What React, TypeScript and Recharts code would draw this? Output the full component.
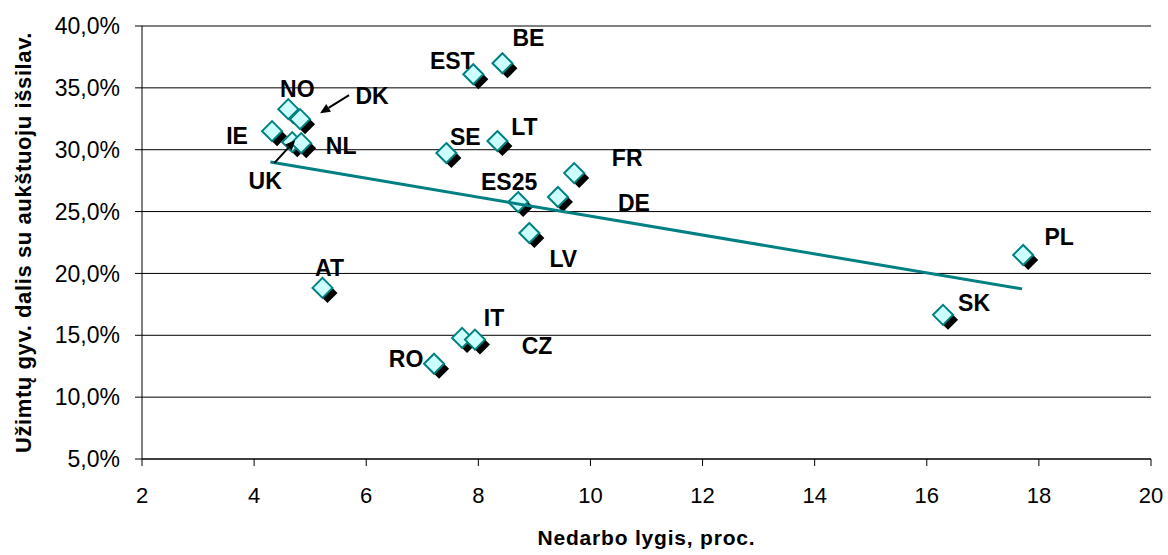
import { ScatterChart, Scatter, XAxis, YAxis, CartesianGrid, Label } from 'recharts'

// ─── Duomenys ────────────────────────────────────────────────────────────────
const countries = ['BE', 'EST', 'NO', 'DK', 'IE', 'UK', 'NL', 'SE', 'LT', 'FR', 'ES25', 'DE', 'LV', 'AT', 'IT', 'CZ', 'RO', 'PL', 'SK']
const unemployment = [8.43, 7.91, 4.61, 4.82, 4.32, 4.68, 4.84, 7.43, 8.34, 9.71, 8.71, 9.42, 8.91, 5.22, 7.71, 7.94, 7.21, 17.72, 16.29]
const tertiaryShare = [36.99, 36.1, 33.28, 32.47, 31.5, 30.61, 30.53, 29.73, 30.7, 28.11, 25.77, 26.18, 23.27, 18.83, 14.79, 14.65, 12.7, 21.49, 16.65]

const trendX = [4.29, 17.7]
const trendY = [29.0, 18.75]

const xTicks = [2, 4, 6, 8, 10, 12, 14, 16, 18, 20]
const yTicks = [5, 10, 15, 20, 25, 30, 35, 40]

const points = countries.map((name, i) => ({ name, x: unemployment[i], y: tertiaryShare[i] }))
const trend = trendX.map((x, i) => ({ x, y: trendY[i] }))

// label offsets (px) from the marker centre, optional arrow [tailX, tailY, tipX, tipY]
const labelLayout: Record<string, { dx: number; dy: number; arrow?: number[] }> = {
  BE: { dx: 26, dy: -25 },
  EST: { dx: -21, dy: -13 },
  NO: { dx: 9, dy: -20 },
  DK: { dx: 72, dy: -23, arrow: [49, -24, 20, -6] },
  IE: { dx: -35, dy: 5 },
  UK: { dx: -27, dy: 39, arrow: [-18, 21, 3, -2] },
  NL: { dx: 40, dy: 3 },
  SE: { dx: 19, dy: -16 },
  LT: { dx: 27, dy: -14 },
  FR: { dx: 53, dy: -15 },
  ES25: { dx: -9, dy: -20 },
  DE: { dx: 76, dy: 6 },
  LV: { dx: 34, dy: 26 },
  AT: { dx: 7, dy: -20 },
  IT: { dx: 32, dy: -20 },
  CZ: { dx: 62, dy: 6 },
  RO: { dx: -28, dy: -5 },
  PL: { dx: 36, dy: -18 },
  SK: { dx: 31, dy: -12 },
}

const FONT = '"Liberation Sans", Arial, sans-serif'
const TEAL = '#008080'

function Diamond({ cx, cy }: any) {
  const r = 10
  const pts = (ox: number, oy: number) =>
    `${cx + ox},${cy + oy - r} ${cx + ox + r},${cy + oy} ${cx + ox},${cy + oy + r} ${cx + ox - r},${cy + oy}`
  return (
    <g>
      <polygon points={pts(5, 5)} fill="#000" />
      <polygon points={pts(0, 0)} fill="#CCFFFF" stroke={TEAL} strokeWidth={2} />
    </g>
  )
}

function CountryLabel({ cx, cy, payload }: any) {
  const l = labelLayout[payload.name]
  if (!l) return <g />
  let arrow = null
  if (l.arrow) {
    const [tx, ty, hx, hy] = l.arrow
    const x1 = cx + tx, y1 = cy + ty, x2 = cx + hx, y2 = cy + hy
    const len = Math.hypot(x2 - x1, y2 - y1)
    const ux = (x2 - x1) / len, uy = (y2 - y1) / len
    const bx = x2 - ux * 10, by = y2 - uy * 10
    arrow = (
      <g>
        <line x1={x1} y1={y1} x2={bx} y2={by} stroke="#000" strokeWidth={2} />
        <polygon
          points={`${x2},${y2} ${bx - uy * 4.5},${by + ux * 4.5} ${bx + uy * 4.5},${by - ux * 4.5}`}
          fill="#000"
        />
      </g>
    )
  }
  return (
    <g>
      {arrow}
      <text x={cx + l.dx} y={cy + l.dy + 8} textAnchor="middle" fontFamily={FONT} fontWeight="bold" fontSize={23} fill="#000">
        {payload.name}
      </text>
    </g>
  )
}

const fmtPct = (v: number) => v.toFixed(1).replace('.', ',') + '%'

export default function App() {
  return (
    <div style={{ position: 'absolute', left: 0, top: 0, width: 1168, height: 555, background: '#fff' }}>
      <ScatterChart width={1168} height={555} margin={{ top: 26, right: 17, bottom: 0, left: 0 }}>
        <CartesianGrid vertical={false} stroke="#000" strokeWidth={1} />
        <XAxis
          type="number"
          dataKey="x"
          domain={[2, 20]}
          ticks={xTicks}
          height={96}
          tickSize={7}
          tickMargin={21}
          axisLine={{ stroke: '#000' }}
          tickLine={{ stroke: '#000' }}
          tick={{ fill: '#000', fontSize: 22, fontFamily: FONT }}
        >
          <Label
            content={({ viewBox }: any) => (
              <text
                x={viewBox.x + viewBox.width / 2}
                y={545}
                textAnchor="middle"
                fontFamily={FONT}
                fontWeight="bold"
                fontSize={21}
                letterSpacing={0.8}
                fill="#000"
              >
                Nedarbo lygis, proc.
              </text>
            )}
          />
        </XAxis>
        <YAxis
          type="number"
          dataKey="y"
          domain={[5, 40]}
          ticks={yTicks}
          width={142}
          tickSize={7}
          tickMargin={15}
          tickFormatter={fmtPct}
          axisLine={{ stroke: '#000' }}
          tickLine={{ stroke: '#000' }}
          tick={{ fill: '#000', fontSize: 23, fontFamily: FONT }}
        >
          <Label
            content={({ viewBox }: any) => {
              const cy = viewBox.y + viewBox.height / 2
              return (
                <text
                  x={31}
                  y={cy}
                  transform={`rotate(-90 31 ${cy})`}
                  textAnchor="middle"
                  fontFamily={FONT}
                  fontWeight="bold"
                  fontSize={22}
                  letterSpacing={0.6}
                  fill="#000"
                >
                  Užimtų gyv. dalis su aukštuoju išsilav.
                </text>
              )
            }}
          />
        </YAxis>
        <Scatter data={points} shape={Diamond} isAnimationActive={false} />
        <Scatter
          data={trend}
          line={{ stroke: TEAL, strokeWidth: 3 }}
          shape={() => <g />}
          isAnimationActive={false}
        />
        <Scatter data={points} shape={CountryLabel} isAnimationActive={false} />
      </ScatterChart>
    </div>
  )
}
